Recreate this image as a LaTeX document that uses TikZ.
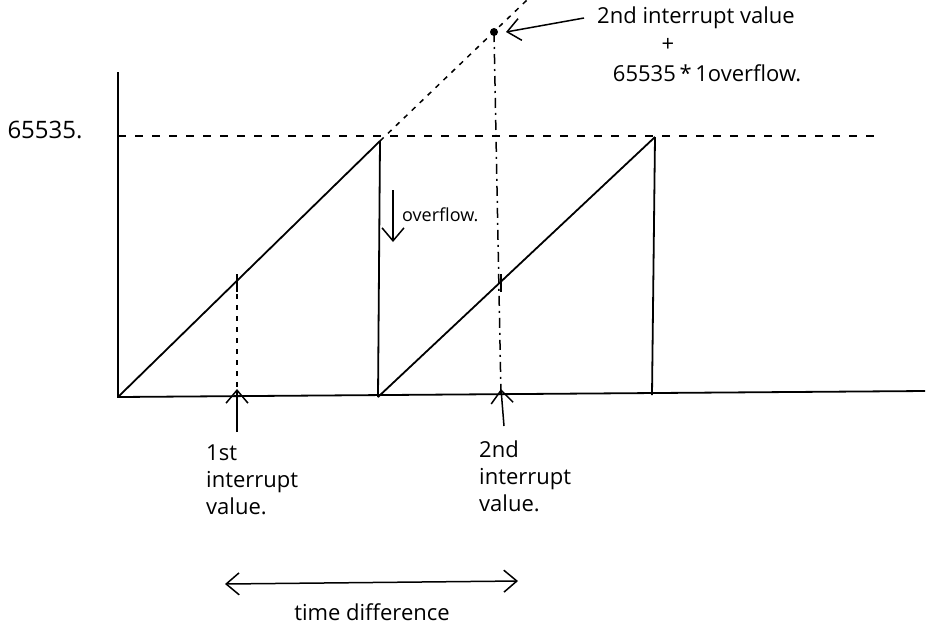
\documentclass[tikz,border=0pt]{standalone}
\usepackage{fontspec}
\setmainfont{Open Sans}
\usetikzlibrary{arrows.meta}
\tikzset{
    pen/.style={line width=1.8pt},
    note/.style={font=\fontsize{22}{27}\selectfont, inner sep=1pt},
    level/.style={line width=1.5pt, dash pattern=on 8pt off 9pt},
    guide/.style={line width=1.5pt, dash pattern=on 5pt off 6pt},
    drop/.style={line width=1.5pt, dash pattern=on 10pt off 5pt on 2pt off 5pt},
    pointer/.style={line width=1.5pt, -{Straight Barb[length=13pt,width=22pt]}}
}
\begin{document}
\begin{tikzpicture}[x=1pt,y=-1pt]
        \useasboundingbox[fill=white] (0,0) rectangle (933,633);
        % points of the plot
        \coordinate (O) at (118,397);
        \coordinate (ytop) at (118,72);
        \coordinate (xend) at (925,391);
        \coordinate (top) at (118,136);
        \coordinate (topend) at (880,136);
        \coordinate (peak1) at (380,141);
        \coordinate (base1) at (378,397);
        \coordinate (peak2) at (655,137);
        \coordinate (base2) at (652,395);
        \coordinate (dot) at (494,32);
        \coordinate (ext) at (527,0);
        \coordinate (tick1) at (237,283);
        \coordinate (foot1) at (237,397);
        \coordinate (tick2) at (501,283);
        \coordinate (foot2) at (501,396);
        \coordinate (up1) at (237,432);
        \coordinate (up2) at (504,426);
        \coordinate (ovtop) at (393,190);
        \coordinate (ovbot) at (393,242);
        \coordinate (tL) at (225,584);
        \coordinate (tR) at (518,581);
        % labels
        \begin{scope}[every node/.style={note}]
            \node[font=\fontsize{24}{28}\selectfont] (max) at (45,130) {65535.};
            \node (ann1) at (696,18) {2nd interrupt value};
            \node (annplus) at (668,45) {+};
            \node (ann2) at (707,73) {65535\,*\,1overflow.};
            \node[anchor=west, font=\fontsize{18}{22}\selectfont] (ovtext) at (401,215) {overflow.};
            \node[anchor=north west, align=left] (lbl1) at (205,444) {1st\\interrupt\\value.};
            \node[anchor=north west, align=left] (lbl2) at (478,440) {2nd\\interrupt\\value.};
            \node (tdiff) at (372,612) {time difference};
        \end{scope}
        % axes and counter ramps
        \draw[pen] (ytop) -- (O) -- (xend);
        \draw[pen] (O) -- (peak1);
        \draw[pen] (peak1) -- (base1);
        \draw[pen] (base1) -- (peak2);
        \draw[pen] (peak2) -- (base2);
        \draw[level] (top) -- (topend);
        \draw[guide] (peak1) -- (ext);
        \draw[drop] (dot) -- (foot2);
        \draw[guide] (tick1) -- (foot1);
        \draw[pen] ([yshift=-9pt]tick1) -- ([yshift=9pt]tick1);
        \draw[pen] ([yshift=-9pt]tick2) -- ([yshift=9pt]tick2);
        \fill (dot) circle (4pt);
        % pointers
        \draw[pointer] ([xshift=-12pt]ann1.west) -- ([xshift=12pt]dot);
        \draw[pointer] (ovtop) -- (ovbot);
        \draw[pointer] (up1) -- ([yshift=8pt]foot1);
        \draw[pointer] (up2) -- ([yshift=7pt]foot2);
        \draw[line width=1.5pt, {Straight Barb[length=13pt,width=22pt]}-{Straight Barb[length=13pt,width=22pt]}] (tL) -- (tR);
    \end{tikzpicture}
\end{document}
